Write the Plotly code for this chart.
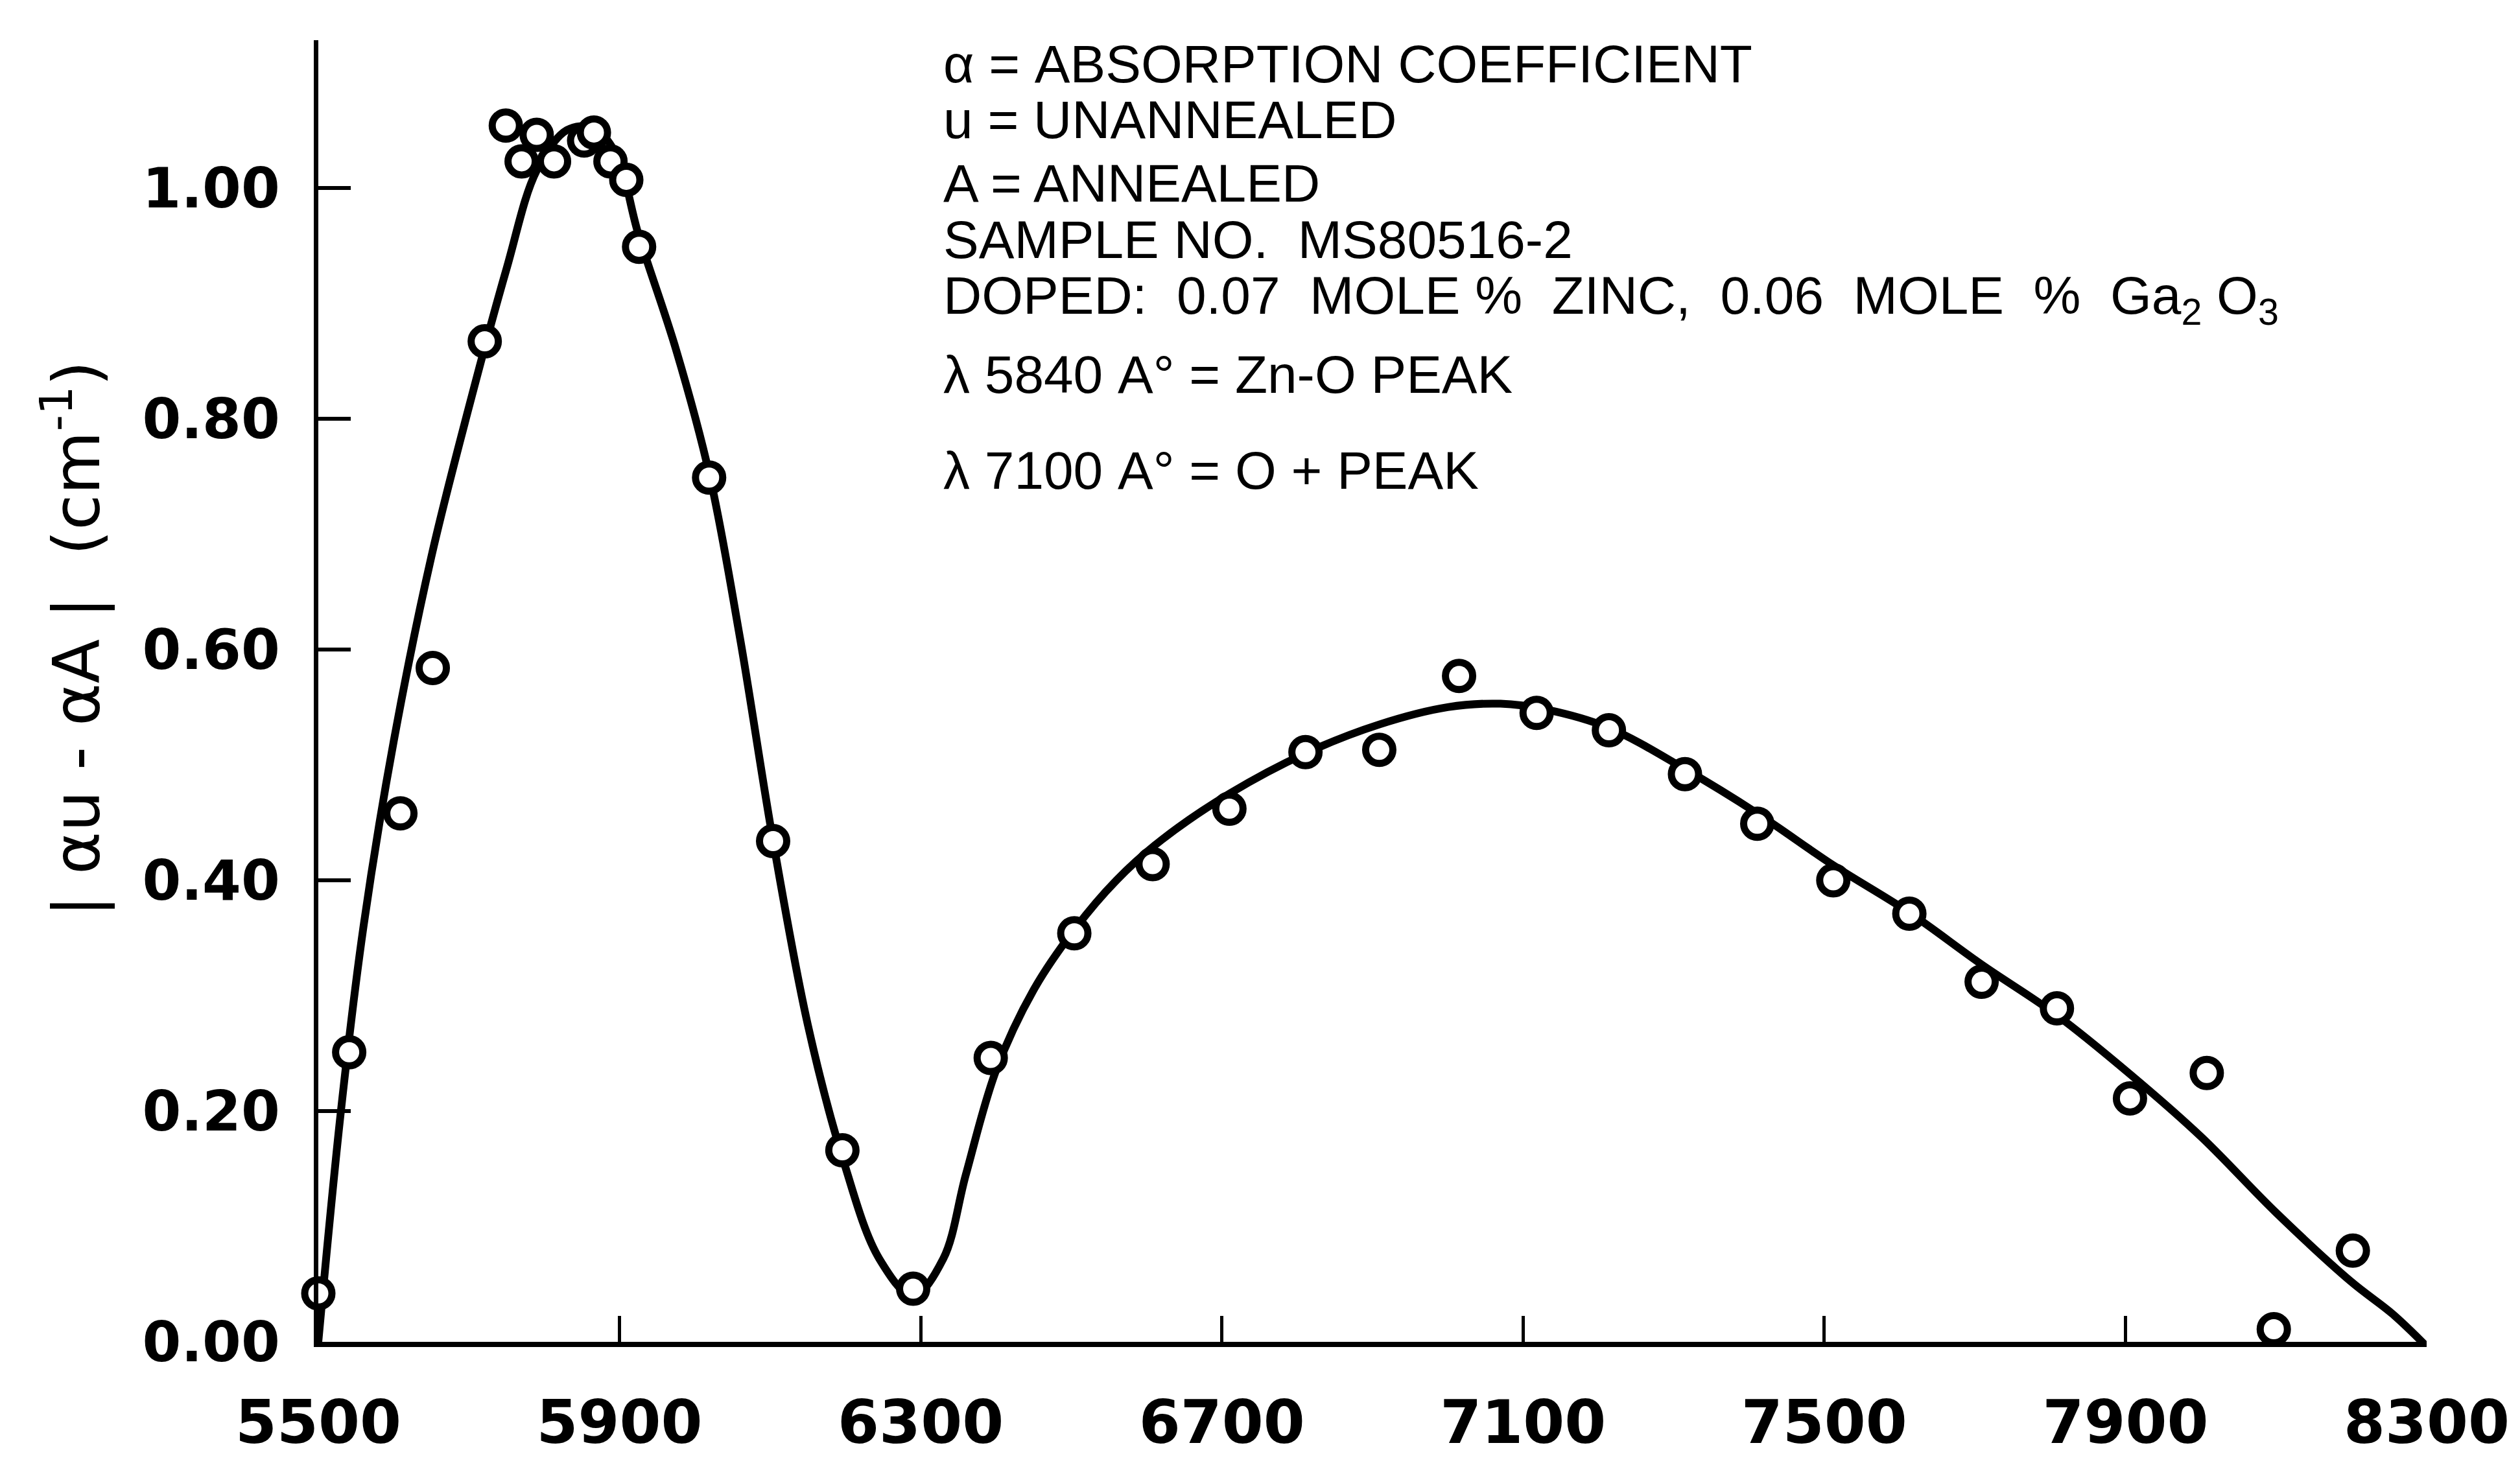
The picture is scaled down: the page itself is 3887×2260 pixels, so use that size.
import plotly.graph_objects as go

# ---- data ----
obs_x = [5500, 5541, 5609, 5652, 5721, 5749, 5770, 5790, 5813, 5853, 5866, 5888,
         5909, 5926, 6019, 6104, 6196, 6290, 6393, 6504, 6608, 6710, 6811, 6909,
         7015, 7118, 7214, 7315, 7411, 7512, 7613, 7709, 7809, 7906, 8008, 8097,
         8202, 8298]
obs_y = [0.042, 0.251, 0.458, 0.584, 0.867, 1.054, 1.023, 1.046, 1.023, 1.041, 1.048, 1.023,
         1.007, 0.949, 0.749, 0.434, 0.166, 0.046, 0.246, 0.354, 0.414, 0.462, 0.511, 0.513,
         0.577, 0.545, 0.530, 0.492, 0.449, 0.400, 0.371, 0.312, 0.289, 0.211, 0.233, 0.011,
         0.079, -0.011]

curve_x = [5500, 5530, 5560, 5600, 5650, 5700, 5750, 5790, 5830, 5865, 5895, 5925,
           5975, 6020, 6060, 6104, 6150, 6196, 6245, 6290, 6330, 6360, 6400, 6450,
           6505, 6560, 6620, 6710, 6811, 6909, 7000, 7070, 7130, 7214, 7316, 7411,
           7512, 7613, 7709, 7809, 7906, 8000, 8100, 8200, 8255, 8300]
curve_y = [0.000, 0.200, 0.360, 0.520, 0.680, 0.810, 0.930, 1.015, 1.050, 1.052, 1.030, 0.960,
           0.860, 0.750, 0.610, 0.434, 0.275, 0.160, 0.072, 0.040, 0.072, 0.145, 0.235, 0.305,
           0.358, 0.400, 0.435, 0.475, 0.510, 0.535, 0.550, 0.553, 0.548, 0.532, 0.496, 0.458,
           0.413, 0.372, 0.327, 0.283, 0.232, 0.178, 0.112, 0.052, 0.024, -0.004]

x_ticks = [5500, 5900, 6300, 6700, 7100, 7500, 7900, 8300]
x_ticktext = ["5500", "5900", "6300", "6700", "7100", "7500", "7900", "8300"]
y_ticks = [0.0, 0.2, 0.4, 0.6, 0.8, 1.0]
y_ticktext = ["0.00", "0.20", "0.40", "0.60", "0.80", "1.00"]

note_lines = [
    "α = ABSORPTION COEFFICIENT",
    "u = UNANNEALED",
    "A = ANNEALED",
    "SAMPLE NO.  MS80516-2",
    "DOPED:  0.07  MOLE %  ZINC,  0.06  MOLE  %  Ga<sub>2</sub> O<sub>3</sub>",
    "λ 5840 A° = Zn-O PEAK",
    "λ 7100 A° = O + PEAK",
]
note_y = [0.9818, 0.9389, 0.8901, 0.8471, 0.8008, 0.7431, 0.6696]

y_title = "| αu - αA |  (cm<sup>-1</sup>)"

# ---- figure ----
fig = go.Figure()
fig.add_trace(go.Scatter(
    x=curve_x, y=curve_y, mode="lines",
    line=dict(color="black", width=12, shape="spline", smoothing=1.0),
    hoverinfo="skip", showlegend=False))
fig.add_trace(go.Scatter(
    x=obs_x, y=obs_y, mode="markers",
    marker=dict(symbol="circle", size=42, color="white",
                line=dict(color="black", width=11)),
    cliponaxis=False, showlegend=False))

for txt, yy in zip(note_lines, note_y):
    fig.add_annotation(text=txt, xref="paper", yref="paper", x=0.2958, y=yy,
                       xanchor="left", yanchor="middle", showarrow=False,
                       font=dict(family="Liberation Sans", size=82, color="black"))

fig.add_annotation(text=y_title, xref="paper", yref="paper",
                   x=-0.1166, y=0.540, xanchor="center", yanchor="middle",
                   textangle=-90, showarrow=False,
                   font=dict(family="DejaVu Sans", size=100, color="black"))

fig.update_layout(
    width=3887, height=2260,
    margin=dict(l=491, r=144, t=62, b=170),
    paper_bgcolor="white", plot_bgcolor="white",
    showlegend=False,
    xaxis=dict(range=[5500, 8300], tickvals=x_ticks, ticktext=x_ticktext,
               ticks="inside", ticklen=40, tickwidth=5, tickcolor="black",
               showline=True, linewidth=8, linecolor="black",
               showgrid=False, zeroline=False, ticklabelstandoff=38,
               tickfont=dict(family="DejaVu Sans", size=92, color="black", weight="bold")),
    yaxis=dict(range=[0, 1.128], tickvals=y_ticks, ticktext=y_ticktext,
               ticks="inside", ticklen=50, tickwidth=6, tickcolor="black",
               showline=True, linewidth=7, linecolor="black",
               showgrid=False, zeroline=False, ticklabelstandoff=35,
               tickfont=dict(family="DejaVu Sans", size=86, color="black", weight="bold")),
)

fig.write_html("out.html")
